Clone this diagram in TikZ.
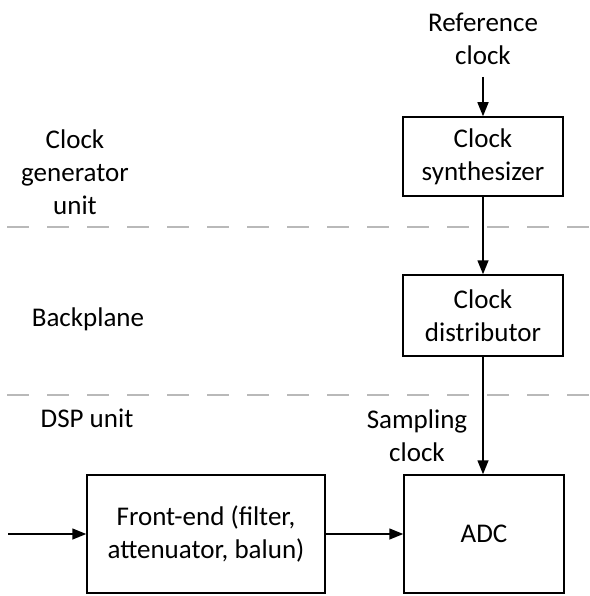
\documentclass[tikz,border=0pt]{standalone}
\usepackage{fontspec}
\setmainfont{Carlito}
\usetikzlibrary{arrows.meta}

\tikzset{
  lbl/.style={align=center, inner sep=0pt, font=\fontsize{27}{33}\selectfont},
  blockbox/.style={lbl, draw, line width=1.5pt, minimum width=#1},
  flow/.style={line width=1.5pt, -{Triangle[length=14pt,width=11pt]}},
  divider/.style={gray!55, line width=2pt, dash pattern=on 22pt off 18pt}
}

\begin{document}
\begin{tikzpicture}[x=1pt, y=-1pt]
  \useasboundingbox (0,0) rectangle (589,596);

  % section dividers
  \coordinate (d1l) at (7,227);   \coordinate (d1r) at (589,227);
  \coordinate (d2l) at (7,395);   \coordinate (d2r) at (589,395);
  \draw[divider] (d1l) -- (d1r);
  \draw[divider] (d2l) -- (d2r);

  % section names
  \node[lbl] (gen)  at (75,172) {Clock\\generator\\unit};
  \node[lbl] (bp)   at (88,319) {Backplane};
  \node[lbl] (dsp)  at (87,418) {DSP unit};

  % clock path
  \node[lbl] (ref)  at (483,39) {Reference\\clock};
  \node[blockbox=160pt, minimum height=79pt] (synth) at (483,156.5) {Clock\\synthesizer};
  \node[blockbox=160pt, minimum height=81pt] (dist)  at (483,315.5) {Clock\\distributor};
  \node[lbl] (samp) at (417,436) {Sampling\\clock};

  % signal path
  \node[blockbox=238pt, minimum height=118pt] (fe)  at (206,534) {Front-end (filter,\\attenuator, balun)};
  \node[blockbox=160pt, minimum height=118pt] (adc) at (484,534) {ADC};
  \coordinate (in) at (8,534);
  \coordinate (refend) at (483,77);

  % connectors
  \draw[flow] (refend) -- (refend |- synth.north);
  \draw[flow] (synth.south) -- (synth.south |- dist.north);
  \draw[flow] (dist.south) -- (dist.south |- adc.north);
  \draw[flow] (in) -- (fe.west);
  \draw[flow] (fe.east) -- (adc.west);
\end{tikzpicture}
\end{document}
